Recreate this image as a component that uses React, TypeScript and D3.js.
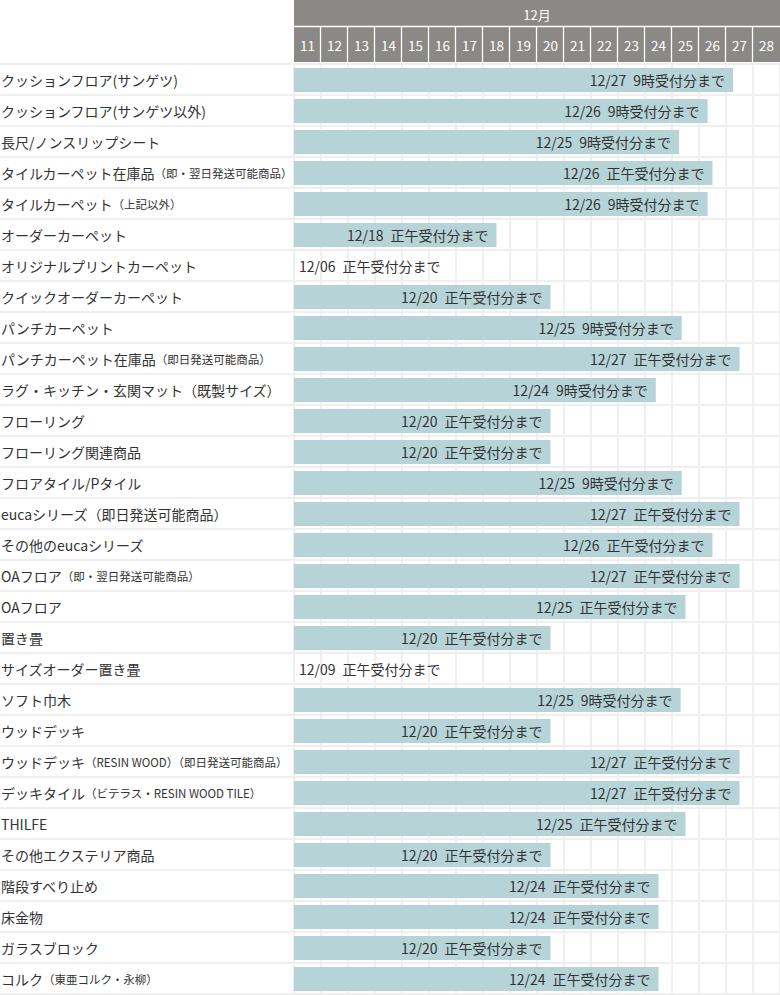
import React from "react";
import * as d3 from "d3";

const days = [11, 12, 13, 14, 15, 16, 17, 18, 19, 20, 21, 22, 23, 24, 25, 26, 27, 28];
const monthLabel = "12月";

const labelMain = [
  "クッションフロア(サンゲツ)",
  "クッションフロア(サンゲツ以外)",
  "長尺/ノンスリップシート",
  "タイルカーペット在庫品",
  "タイルカーペット",
  "オーダーカーペット",
  "オリジナルプリントカーペット",
  "クイックオーダーカーペット",
  "パンチカーペット",
  "パンチカーペット在庫品",
  "ラグ・キッチン・玄関マット（既製サイズ）",
  "フローリング",
  "フローリング関連商品",
  "フロアタイル/Pタイル",
  "eucaシリーズ（即日発送可能商品）",
  "その他のeucaシリーズ",
  "OAフロア",
  "OAフロア",
  "置き畳",
  "サイズオーダー置き畳",
  "ソフト巾木",
  "ウッドデッキ",
  "ウッドデッキ",
  "デッキタイル",
  "THILFE",
  "その他エクステリア商品",
  "階段すべり止め",
  "床金物",
  "ガラスブロック",
  "コルク",
];

const labelSub = [
  "", "", "",
  "（即・翌日発送可能商品）",
  "（上記以外）",
  "", "", "", "",
  "（即日発送可能商品）",
  "", "", "", "", "", "",
  "（即・翌日発送可能商品）",
  "", "", "", "", "",
  "（RESIN WOOD）（即日発送可能商品）",
  "（ビテラス・RESIN WOOD TILE）",
  "", "", "", "", "",
  "（東亜コルク・永柳）",
];

const deadlineDate = [
  "12/27", "12/26", "12/25", "12/26", "12/26", "12/18", "12/06", "12/20", "12/25", "12/27",
  "12/24", "12/20", "12/20", "12/25", "12/27", "12/26", "12/27", "12/25", "12/20", "12/09",
  "12/25", "12/20", "12/27", "12/27", "12/25", "12/20", "12/24", "12/24", "12/20", "12/24",
];

const deadlineTime = [
  "9時", "9時", "9時", "正午", "9時", "正午", "正午", "正午", "9時", "正午",
  "9時", "正午", "正午", "9時", "正午", "正午", "正午", "正午", "正午", "正午",
  "9時", "正午", "正午", "正午", "正午", "正午", "正午", "正午", "正午", "正午",
];

// bar end position in day units (null = before visible range, no bar)
const barEnd: (number | null)[] = [
  27.26, 26.32, 25.26, 26.5, 26.32, 18.5, null, 20.5, 25.36, 27.5,
  24.4, 20.5, 20.5, 25.36, 27.5, 26.5, 27.5, 25.5, 20.5, null,
  25.32, 20.5, 27.5, 27.5, 25.5, 20.5, 24.5, 24.5, 20.5, 24.5,
];

const W = 780;
const H = 995;
const LEFT = 294;
const HEADER_H = 63;
const ROW_H = 31;
const FONT = "'Noto Sans CJK JP', 'Noto Sans', sans-serif";

export default function App() {
  const x = d3.scaleLinear().domain([11, 29]).range([LEFT, W]);
  const rows = d3.range(labelMain.length);
  const y = d3
    .scaleBand<number>()
    .domain(rows)
    .range([HEADER_H, HEADER_H + ROW_H * rows.length]);

  const gridColor = "#efefef";
  const barColor = "#b6d4d8";
  const headerColor = "#8b8985";

  return (
    <div style={{ position: "absolute", left: 0, top: 0 }}>
      <svg width={W} height={H} style={{ display: "block", fontFamily: FONT }}>
        <rect x={0} y={0} width={W} height={H} fill="#fff" />
        {/* vertical grid */}
        {days.concat([29]).map((d) => (
          <line
            key={"v" + d}
            x1={x(d)}
            x2={x(d)}
            y1={HEADER_H}
            y2={H}
            stroke={gridColor}
            strokeWidth={2}
          />
        ))}
        {/* horizontal grid */}
        {rows.concat([rows.length]).map((i) => (
          <line
            key={"h" + i}
            x1={0}
            x2={W}
            y1={HEADER_H + 1 + i * ROW_H}
            y2={HEADER_H + 1 + i * ROW_H}
            stroke={gridColor}
            strokeWidth={2}
          />
        ))}
        {/* header */}
        <rect x={LEFT} y={0} width={W - LEFT} height={HEADER_H - 1} fill={headerColor} />
        <line x1={LEFT} x2={W} y1={26.5} y2={26.5} stroke="#fff" strokeWidth={1.5} />
        {days.slice(1).map((d) => (
          <line
            key={"hs" + d}
            x1={x(d) - 0.5}
            x2={x(d) - 0.5}
            y1={27}
            y2={HEADER_H - 1}
            stroke="#fff"
            strokeWidth={1.3}
          />
        ))}
        <text
          x={(LEFT + W) / 2}
          y={14}
          fill="#fff"
          fontSize={13}
          textAnchor="middle"
          dominantBaseline="central"
        >
          {monthLabel}
        </text>
        {days.map((d) => (
          <text
            key={"dl" + d}
            x={(x(d) + x(d + 1)) / 2}
            y={45}
            fill="#fff"
            fontSize={13.5}
            textAnchor="middle"
            dominantBaseline="central"
          >
            {d}
          </text>
        ))}
        {/* rows */}
        {rows.map((i) => {
          const top = y(i)!;
          const cy = top + 17;
          const end = barEnd[i];
          const label = `${deadlineDate[i]}\u2002${deadlineTime[i]}受付分まで`;
          return (
            <g key={"r" + i}>
              <text x={1} y={cy} fontSize={14} fill="#333" dominantBaseline="central">
                {labelMain[i]}
                {labelSub[i] ? <tspan fontSize={11.5}>{labelSub[i]}</tspan> : null}
              </text>
              {end !== null ? (
                <>
                  <rect
                    x={x(11)}
                    y={top + 5}
                    width={x(end) - x(11)}
                    height={24}
                    fill={barColor}
                  />
                  <text
                    x={x(end) - 8}
                    y={cy}
                    fontSize={14}
                    fill="#333"
                    textAnchor="end"
                    dominantBaseline="central"
                  >
                    {label}
                  </text>
                </>
              ) : (
                <text x={x(11) + 5} y={cy} fontSize={14} fill="#333" dominantBaseline="central">
                  {label}
                </text>
              )}
            </g>
          );
        })}
      </svg>
    </div>
  );
}
